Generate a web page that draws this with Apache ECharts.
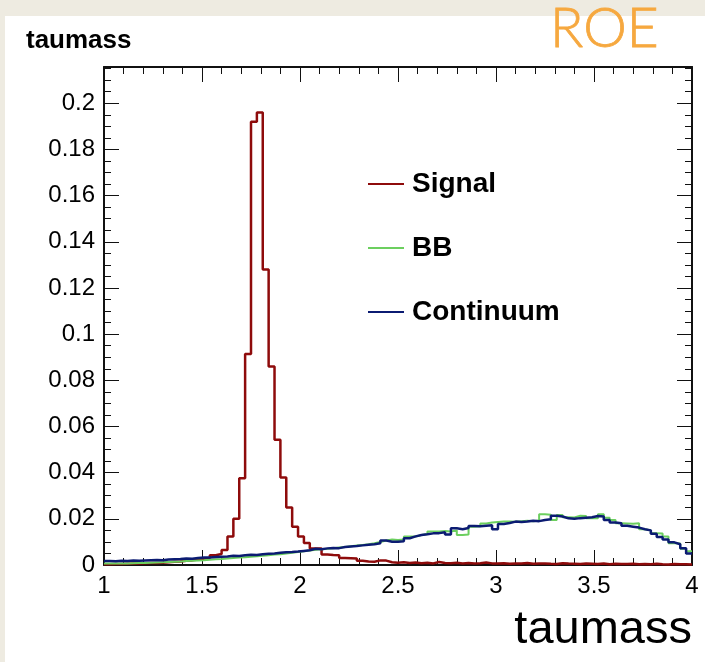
<!DOCTYPE html>
<html>
<head>
<meta charset="utf-8">
<script src="https://cdn.jsdelivr.net/npm/echarts@6/dist/echarts.min.js"></script>
<style>
html,body{margin:0;padding:0;background:#EEEBE1;}
#chart{width:705px;height:662px;}
</style>
</head>
<body>
<div id="chart"></div>
<script>
// Histogram binning: 100 bins from 1 to 4
var binStart = 1;
var binWidth = 0.03;
var xTicks = [1, 1.5, 2, 2.5, 3, 3.5, 4];
var yTickLabels = [0, 0.02, 0.04, 0.06, 0.08, 0.1, 0.12, 0.14, 0.16, 0.18, 0.2];
var seriesNames = ['Signal', 'BB', 'Continuum'];

var signal = [
  0.0003,0.0004,0.0004,0.0005,0.0006,0.0007,0.0008,0.0009,0.0009,0.0010,
  0.0012,0.0014,0.0015,0.0018,0.0020,0.0024,0.0027,0.0030,0.0042,0.0048,
  0.0065,0.0123,0.0200,0.0376,0.0914,0.1920,0.1960,0.1280,0.0860,0.0542,
  0.0379,0.0249,0.0166,0.0123,0.0095,0.0072,0.0072,0.0045,0.0043,0.0042,
  0.0030,0.0029,0.0028,0.0018,0.0015,0.0014,0.0020,0.0019,0.0012,0.0010,
  0.0012,0.0009,0.0011,0.0008,0.0010,0.0007,0.0013,0.0009,0.0008,0.0010,
  0.0007,0.0009,0.0006,0.0008,0.0011,0.0007,0.0006,0.0008,0.0005,0.0007,
  0.0006,0.0009,0.0005,0.0006,0.0007,0.0005,0.0004,0.0008,0.0006,0.0005,
  0.0004,0.0006,0.0005,0.0004,0.0006,0.0003,0.0005,0.0004,0.0004,0.0005,
  0.0003,0.0004,0.0003,0.0005,0.0003,0.0002,0.0004,0.0003,0.0003,0.0002
];

var bb = [
  0.0006,0.0006,0.0007,0.0007,0.0008,0.0009,0.0009,0.0010,0.0011,0.0012,
  0.0013,0.0014,0.0015,0.0017,0.0018,0.0020,0.0021,0.0023,0.0025,0.0026,
  0.0028,0.0030,0.0032,0.0034,0.0036,0.0038,0.0040,0.0042,0.0045,0.0047,
  0.0050,0.0053,0.0056,0.0060,0.0063,0.0066,0.0068,0.0070,0.0073,0.0076,
  0.0078,0.0081,0.0084,0.0087,0.0090,0.0094,0.0100,0.0106,0.0110,0.0108,
  0.0110,0.0123,0.0123,0.0130,0.0134,0.0145,0.0145,0.0147,0.0145,0.0150,
  0.0130,0.0132,0.0166,0.0168,0.0180,0.0184,0.0186,0.0188,0.0188,0.0187,
  0.0190,0.0192,0.0190,0.0193,0.0220,0.0218,0.0195,0.0217,0.0207,0.0206,
  0.0213,0.0212,0.0202,0.0203,0.0220,0.0205,0.0195,0.0181,0.0180,0.0179,
  0.0181,0.0155,0.0150,0.0138,0.0136,0.0123,0.0094,0.0093,0.0070,0.0060
];

var continuum = [
  0.0017,0.0016,0.0018,0.0017,0.0019,0.0018,0.0020,0.0021,0.0022,0.0021,
  0.0024,0.0025,0.0026,0.0028,0.0027,0.0030,0.0032,0.0033,0.0035,0.0036,
  0.0037,0.0040,0.0039,0.0042,0.0044,0.0043,0.0047,0.0049,0.0050,0.0053,
  0.0055,0.0056,0.0058,0.0061,0.0064,0.0070,0.0068,0.0072,0.0074,0.0073,
  0.0078,0.0080,0.0082,0.0085,0.0088,0.0090,0.0094,0.0106,0.0101,0.0101,
  0.0103,0.0116,0.0124,0.0130,0.0133,0.0137,0.0138,0.0142,0.0132,0.0159,
  0.0155,0.0160,0.0169,0.0168,0.0170,0.0172,0.0155,0.0178,0.0182,0.0188,
  0.0186,0.0188,0.0192,0.0190,0.0195,0.0198,0.0213,0.0210,0.0202,0.0200,
  0.0203,0.0205,0.0207,0.0212,0.0210,0.0195,0.0184,0.0181,0.0170,0.0166,
  0.0162,0.0155,0.0150,0.0135,0.0121,0.0110,0.0098,0.0090,0.0073,0.0050
];

function histData(vals) {
  var d = vals.map(function (v, i) { return [binStart + binWidth * i, v]; });
  d.push([binStart + binWidth * vals.length, vals[vals.length - 1]]);
  return d;
}

var yMax = 0.2157;
var fmt = function (v) { return String(+(+v).toFixed(4)); };
var FONT = 'Liberation Sans, Arial, Helvetica, sans-serif';
var colors = ['#8e0b0b', '#6ccf5f', '#0b1b72'];

var chart = echarts.init(document.getElementById('chart'), null, {renderer: 'canvas'});

function xAx(pos, labels) {
  return {
    type: 'value', position: pos, min: xTicks[0], max: xTicks[xTicks.length - 1], interval: 0.5,
    axisLine: {show: true, onZero: false, lineStyle: {color: '#111', width: 2}},
    axisTick: {show: true, inside: true, length: 15, lineStyle: {color: '#111', width: 1}},
    minorTick: {show: true, splitNumber: 5, length: 7, lineStyle: {color: '#111', width: 1}},
    splitLine: {show: false},
    axisLabel: {show: labels, margin: 9, color: '#000', fontFamily: FONT, fontSize: 24, formatter: fmt}
  };
}
function yAx(pos, major, labels) {
  return {
    type: 'value', position: pos, min: 0, max: yMax, interval: major ? 0.02 : 0.005,
    axisLine: {show: major, onZero: false, lineStyle: {color: '#111', width: 2}},
    axisTick: {show: true, inside: true, length: major ? 15 : 7, lineStyle: {color: '#111', width: 1}},
    splitLine: {show: false},
    axisLabel: {show: labels, margin: 9, color: '#000', fontFamily: FONT, fontSize: 24,
      showMaxLabel: false, formatter: fmt}
  };
}

var xBottom = xAx('bottom', true);
xBottom.name = 'taumass';
xBottom.nameLocation = 'end';
xBottom.nameGap = 0;
xBottom.nameTextStyle = {fontFamily: FONT, fontSize: 47, color: '#000', align: 'right',
  verticalAlign: 'top', padding: [42, 0, 0, 0]};

var option = {
  backgroundColor: '#EEEBE1',
  animation: false,
  graphic: [
    {type: 'rect', z: -10, shape: {x: 5, y: 16, width: 700, height: 646}, style: {fill: '#ffffff'}},
    {type: 'text', z: 10, style: {x: 550, y: 29, text: 'ROE', fill: '#f6a83f',
      font: '300 55px Lato, "Open Sans", sans-serif', textVerticalAlign: 'middle',
      stroke: '#f6a83f', lineWidth: 0.8}}
  ],
  title: {text: 'taumass', left: 26, top: 28, padding: 0,
    textStyle: {fontFamily: FONT, fontSize: 26, fontWeight: 'bold', color: '#000'}},
  legend: {
    orient: 'vertical', left: 368, top: 170, padding: 0, itemGap: 36,
    itemWidth: 36, itemHeight: 2, icon: 'rect',
    data: seriesNames,
    textStyle: {fontFamily: FONT, fontSize: 28, fontWeight: 'bold', color: '#000', padding: [0, 0, 0, 3]}
  },
  grid: {left: 104, right: 13, top: 67, bottom: 97, containLabel: false},
  xAxis: [xBottom, xAx('top', false)],
  yAxis: [yAx('left', true, true), yAx('left', false, false), yAx('right', true, false), yAx('right', false, false)],
  series: [
    {name: seriesNames[0], type: 'line', step: 'end', showSymbol: false, symbol: 'none', data: histData(signal),
      color: colors[0], lineStyle: {color: colors[0], width: 2.5}},
    {name: seriesNames[1], type: 'line', step: 'end', showSymbol: false, symbol: 'none', data: histData(bb),
      color: colors[1], lineStyle: {color: colors[1], width: 2}},
    {name: seriesNames[2], type: 'line', step: 'end', showSymbol: false, symbol: 'none', data: histData(continuum),
      color: colors[2], lineStyle: {color: colors[2], width: 2.5}}
  ]
};
chart.setOption(option);
</script>
</body>
</html>
